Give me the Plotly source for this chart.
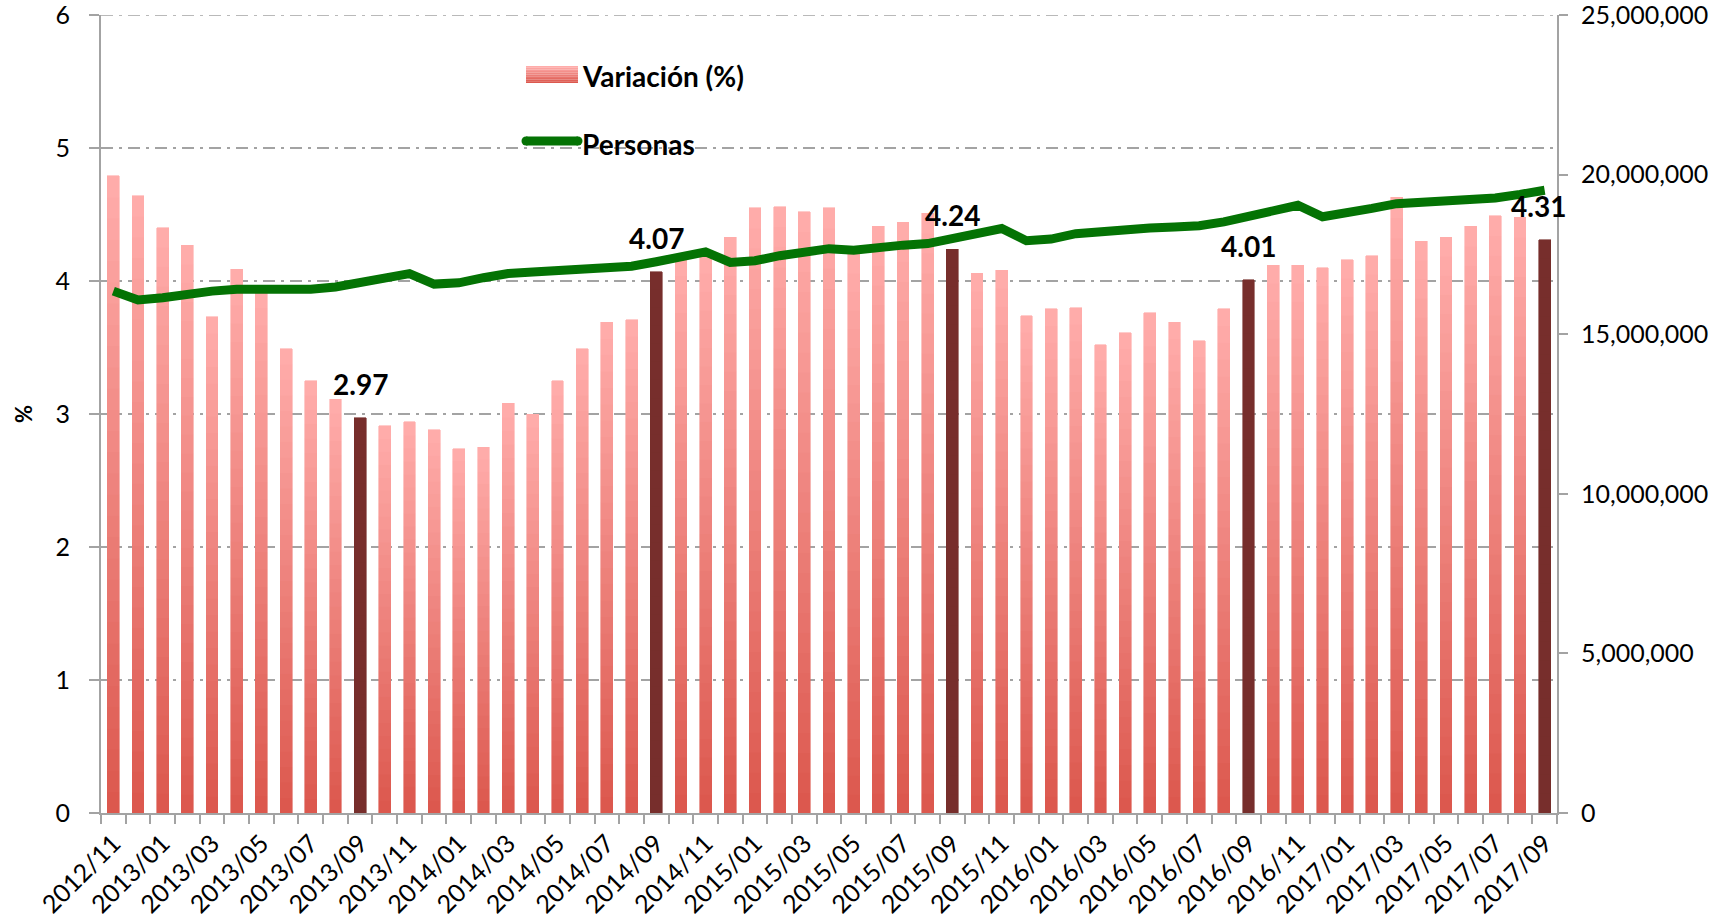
import plotly.graph_objects as go

# ---------------- data ----------------
months = [
    "2012/11", "2012/12",
    "2013/01", "2013/02", "2013/03", "2013/04", "2013/05", "2013/06",
    "2013/07", "2013/08", "2013/09", "2013/10", "2013/11", "2013/12",
    "2014/01", "2014/02", "2014/03", "2014/04", "2014/05", "2014/06",
    "2014/07", "2014/08", "2014/09", "2014/10", "2014/11", "2014/12",
    "2015/01", "2015/02", "2015/03", "2015/04", "2015/05", "2015/06",
    "2015/07", "2015/08", "2015/09", "2015/10", "2015/11", "2015/12",
    "2016/01", "2016/02", "2016/03", "2016/04", "2016/05", "2016/06",
    "2016/07", "2016/08", "2016/09", "2016/10", "2016/11", "2016/12",
    "2017/01", "2017/02", "2017/03", "2017/04", "2017/05", "2017/06",
    "2017/07", "2017/08", "2017/09",
]

variacion = [
    4.79, 4.64,
    4.40, 4.27, 3.73, 4.09, 3.93, 3.49,
    3.25, 3.11, 2.97, 2.91, 2.94, 2.88,
    2.74, 2.75, 3.08, 3.00, 3.25, 3.49,
    3.69, 3.71, 4.07, 4.18, 4.20, 4.33,
    4.55, 4.56, 4.52, 4.55, 4.20, 4.41,
    4.44, 4.51, 4.24, 4.06, 4.08, 3.74,
    3.79, 3.80, 3.52, 3.61, 3.76, 3.69,
    3.55, 3.79, 4.01, 4.12, 4.12, 4.10,
    4.16, 4.19, 4.63, 4.30, 4.33, 4.41,
    4.49, 4.48, 4.31,
]

personas = [
    16.35e6, 16.07e6,
    16.14e6, 16.28e6, 16.35e6, 16.41e6, 16.41e6, 16.40e6,
    16.41e6, 16.48e6, 16.62e6, 16.77e6, 16.90e6, 16.57e6,
    16.61e6, 16.77e6, 16.90e6, 16.95e6, 16.99e6, 17.03e6,
    17.06e6, 17.13e6, 17.27e6, 17.42e6, 17.58e6, 17.25e6,
    17.30e6, 17.46e6, 17.58e6, 17.68e6, 17.63e6, 17.74e6,
    17.79e6, 17.84e6, 18.00e6, 18.15e6, 18.31e6, 17.93e6,
    17.98e6, 18.15e6, 18.23e6, 18.30e6, 18.33e6, 18.36e6,
    18.40e6, 18.52e6, 18.71e6, 18.91e6, 19.04e6, 18.68e6,
    18.78e6, 18.94e6, 19.09e6, 19.12e6, 19.15e6, 19.25e6,
    19.27e6, 19.38e6, 19.51e6,
]

highlighted = ["2013/09", "2014/09", "2015/09", "2016/09", "2017/09"]

left_ticks = [0, 1, 2, 3, 4, 5, 6]
right_ticks = [0, 5e6, 10e6, 15e6, 20e6, 25e6]
tick_labels = [m if i % 2 == 0 else "" for i, m in enumerate(months)]

# ---------------- style ----------------
FONT = "Lato"
GRID = "#a3a3a3"
GREEN = "#047304"
DARK = "#772e2c"
BOTTOM = (220, 88, 78)
TOP = (255, 172, 170)
NSEG = 30
GRIDDASH = "12px,6px,3px,6px"

W, H = 1721, 917
L, R, T, B = 101, 164, 15, 104
PW, PH = W - L - R, H - T - B


def px2paper(x, y):
    return (x - L) / PW, (H - B - y) / PH


def mix(f):
    return "rgb(%d,%d,%d)" % tuple(round(BOTTOM[k] + (TOP[k] - BOTTOM[k]) * f) for k in range(3))


fig = go.Figure()

# gradient bars, built as stacked slices of each value
for s in range(NSEG):
    c = mix(s / (NSEG - 1))
    cols = [DARK if m in highlighted else c for m in months]
    fig.add_trace(go.Bar(
        x=months, y=[v / NSEG for v in variacion],
        marker=dict(color=cols, line=dict(color=cols, width=0.6)),
        showlegend=False, hoverinfo="skip", yaxis="y",
    ))

fig.add_trace(go.Scatter(
    x=months, y=personas, mode="lines", yaxis="y2",
    line=dict(color=GREEN, width=9, shape="linear"),
    showlegend=False, name="Personas", hoverinfo="skip",
))

annotations = []
for m, v in zip(months, variacion):
    if m in highlighted:
        annotations.append(dict(
            x=m, y=v, xref="x", yref="y", text="<b>%.2f</b>" % v,
            showarrow=False, xanchor="center", yanchor="bottom", yshift=15,
            xshift=-6 if m == months[-1] else 0,
            font=dict(family=FONT, size=28, color="#000"),
        ))

# y-axis title "%"
tx, ty = px2paper(23, 414)
annotations.append(dict(x=tx, y=ty, xref="paper", yref="paper", text="<b>%</b>",
                        textangle=-90, showarrow=False, xanchor="center", yanchor="middle",
                        font=dict(family=FONT, size=22, color="#000")))

shapes = []
# top gridline (plotly drops a gridline sitting on the plot edge)
shapes.append(dict(type="line", xref="paper", yref="y", x0=0, x1=1, y0=left_ticks[-1], y1=left_ticks[-1],
                   line=dict(color=GRID, width=1.5, dash=GRIDDASH), layer="below"))

# manual legend
lx0, lx1 = 526, 578
ly0, ly1 = 66, 83
nstrip = 10
for i in range(nstrip):
    ya = ly0 + (ly1 - ly0) * i / nstrip
    yb = ly0 + (ly1 - ly0) * (i + 1) / nstrip
    a = px2paper(lx0, ya)
    b = px2paper(lx1, yb)
    shapes.append(dict(type="rect", xref="paper", yref="paper",
                       x0=a[0], x1=b[0], y0=b[1], y1=a[1],
                       fillcolor=mix(1 - i / (nstrip - 1)), line=dict(width=0)))
a = px2paper(526, 141)
b = px2paper(578, 141)
shapes.append(dict(type="line", xref="paper", yref="paper", x0=a[0], x1=b[0], y0=a[1], y1=b[1],
                   line=dict(color=GREEN, width=9)))
for cx in (526, 578):
    c0 = px2paper(cx - 4.5, 136.5)
    c1 = px2paper(cx + 4.5, 145.5)
    shapes.append(dict(type="circle", xref="paper", yref="paper", x0=c0[0], x1=c1[0], y0=c1[1], y1=c0[1],
                       fillcolor=GREEN, line=dict(width=0)))

p = px2paper(580, 76)
annotations.append(dict(x=p[0], y=p[1], xref="paper", yref="paper", text="<b>Variación (%)</b>",
                        showarrow=False, xanchor="left", yanchor="middle",
                        font=dict(family=FONT, size=28, color="#000")))
p = px2paper(580, 144)
annotations.append(dict(x=p[0], y=p[1], xref="paper", yref="paper", text="<b>Personas</b>",
                        showarrow=False, xanchor="left", yanchor="middle",
                        font=dict(family=FONT, size=28, color="#000")))

fig.update_layout(
    width=W, height=H,
    margin=dict(l=L, r=R, t=T, b=B, autoexpand=False),
    paper_bgcolor="white", plot_bgcolor="white",
    barmode="stack", bargap=0.52,
    font=dict(family=FONT, color="#000"),
    showlegend=False, hovermode=False,
    xaxis=dict(
        type="category", categoryorder="array", categoryarray=months,
        tickmode="array", tickvals=months, ticktext=tick_labels,
        tickson="boundaries", ticks="outside", ticklen=9, tickwidth=2, tickcolor=GRID,
        showline=True, linecolor=GRID, linewidth=2, showgrid=False,
        tickangle=-45, ticklabelstandoff=4,
        tickfont=dict(family=FONT, size=25, color="#000"),
        range=[-0.5, len(months) - 0.5], fixedrange=True,
    ),
    yaxis=dict(
        range=[0, 6], tickmode="array", tickvals=left_ticks,
        ticks="outside", ticklen=10, tickwidth=2, tickcolor=GRID,
        showline=True, linecolor=GRID, linewidth=2,
        showgrid=True, gridcolor=GRID, gridwidth=1.5, griddash=GRIDDASH,
        zeroline=False, ticklabelstandoff=14, ticklabeloverflow="allow",
        tickfont=dict(family=FONT, size=25, color="#000"), fixedrange=True,
    ),
    yaxis2=dict(
        range=[0, 25e6], overlaying="y", side="right",
        tickmode="array", tickvals=right_ticks, tickformat=",d",
        ticks="outside", ticklen=9, tickwidth=2, tickcolor=GRID,
        showline=True, linecolor=GRID, linewidth=2, showgrid=False, zeroline=False,
        ticklabelstandoff=8, ticklabeloverflow="allow",
        tickfont=dict(family=FONT, size=25, color="#000"), fixedrange=True,
    ),
    annotations=annotations,
    shapes=shapes,
)

fig.write_html(
    "out.html",
    config={"displayModeBar": False, "staticPlot": True},
    post_script="document.body.style.margin='0';document.body.style.overflow='hidden';",
)
